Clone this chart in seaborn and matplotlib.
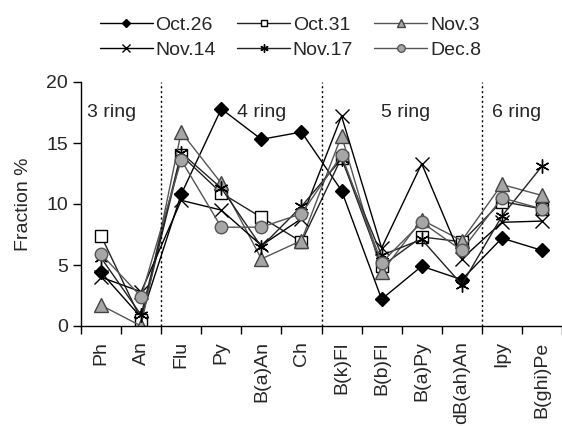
import matplotlib
matplotlib.use("Agg")
import matplotlib.pyplot as plt
import seaborn as sns
import numpy as np
import pandas as pd

categories = ["Ph", "An", "Flu", "Py", "B(a)An", "Ch", "B(k)Fl", "B(b)Fl",
              "B(a)Py", "dB(ah)An", "Ipy", "B(ghi)Pe"]
oct26 = [4.4, 0.7, 10.8, 17.8, 15.3, 15.9, 11.1, 2.2, 4.9, 3.8, 7.2, 6.2]
oct31 = [7.4, 0.5, 14.0, 10.9, 8.9, 6.9, 13.8, 4.9, 7.3, 6.9, 10.2, 9.6]
nov3 = [1.7, 0.0, 15.9, 11.7, 5.5, 7.0, 15.6, 4.4, 8.7, 7.0, 11.6, 10.7]
nov14 = [4.0, 2.8, 10.3, 9.5, 6.6, 8.8, 17.2, 6.4, 13.3, 5.5, 8.5, 8.6]
nov17 = [5.6, 0.9, 14.2, 11.3, 6.5, 9.8, 13.7, 5.8, 7.1, 3.4, 9.0, 13.1]
dec8 = [5.9, 2.4, 13.6, 8.1, 8.1, 9.2, 14.0, 5.2, 8.5, 6.2, 10.5, 9.6]
series_names = ["Oct.26", "Oct.31", "Nov.3", "Nov.14", "Nov.17", "Dec.8"]
ring_labels = ["3 ring", "4 ring", "5 ring", "6 ring"]

sns.set_theme(style="ticks")
plt.rcParams['font.family'] = ['Liberation Sans', 'DejaVu Sans']

fig = plt.figure(figsize=(5.62, 4.26), dpi=100)
ax = fig.add_axes([81/562, 1 - 326/426, (562 - 81)/562, (326 - 82)/426])

x = np.arange(len(categories))
styles = [
    dict(marker="D", mfc="black", mec="black", ms=7, lc="black"),
    dict(marker="s", mfc="white", mec="black", ms=8, lc="#222222"),
    dict(marker="^", mfc="#a6a6a6", mec="#444444", ms=10, lc="#555555"),
    dict(marker="x", mfc="black", mec="black", ms=10, lc="black"),
    dict(marker=(6, 2, 0), mfc="black", mec="black", ms=10, lc="#222222"),
    dict(marker="o", mfc="#a6a6a6", mec="#555555", ms=9, lc="#555555"),
]
data = [oct26, oct31, nov3, nov14, nov17, dec8]
for name, vals, st in zip(series_names, data, styles):
    df = pd.DataFrame({"x": x, "y": vals})
    sns.lineplot(data=df, x="x", y="y", ax=ax, color=st["lc"], linewidth=1.0,
                 marker=st["marker"], markersize=st["ms"],
                 markerfacecolor=st["mfc"], markeredgecolor=st["mec"],
                 markeredgewidth=1.0, label=name)

for b in [1.5, 5.5, 9.5]:
    ax.plot([b, b], [0, 20], color="black", linestyle=(0, (1.5, 2)), linewidth=1.0)

for lab, xp in zip(ring_labels, [-0.34, 3.39, 6.98, 9.75]):
    ax.text(xp, 17.5, lab, ha="left", va="center", fontsize=14)

ax.set_xlim(-0.5, 11.4)
ax.set_ylim(0, 20)
ax.set_yticks([0, 5, 10, 15, 20])
ax.set_xticks(x)
ax.set_xticklabels(categories, rotation=90, fontsize=14)
ax.set_xticks(np.arange(-0.5, 12, 1.0), minor=True)
ax.tick_params(axis="x", which="major", length=0, pad=11)
ax.tick_params(axis="x", which="minor", length=6, width=1, direction="out", color="black")
ax.tick_params(axis="y", labelsize=14, length=6, width=1, color="black")
ax.set_xlabel("")
ax.set_ylabel("Fraction %", fontsize=14, labelpad=10)
ax.spines["top"].set_visible(False)
ax.spines["right"].set_visible(False)
for s in ["left", "bottom"]:
    ax.spines[s].set_color("black")
    ax.spines[s].set_linewidth(1.0)
    ax.spines[s].set_clip_on(False)

handles, labels = ax.get_legend_handles_labels()
order = [0, 3, 1, 4, 2, 5]
handles = [handles[i] for i in order]
labels = [labels[i] for i in order]
if ax.get_legend():
    ax.get_legend().remove()
leg = fig.legend(handles, labels, ncol=3, loc="upper left",
                 bbox_to_anchor=(100/562, 1 - 16/426), frameon=False,
                 borderaxespad=0, borderpad=0,
                 fontsize=14, handlelength=2.7, handletextpad=0.15,
                 columnspacing=1.1, labelspacing=0.4, markerscale=0.6)

fig.savefig("out.png", dpi=100)
